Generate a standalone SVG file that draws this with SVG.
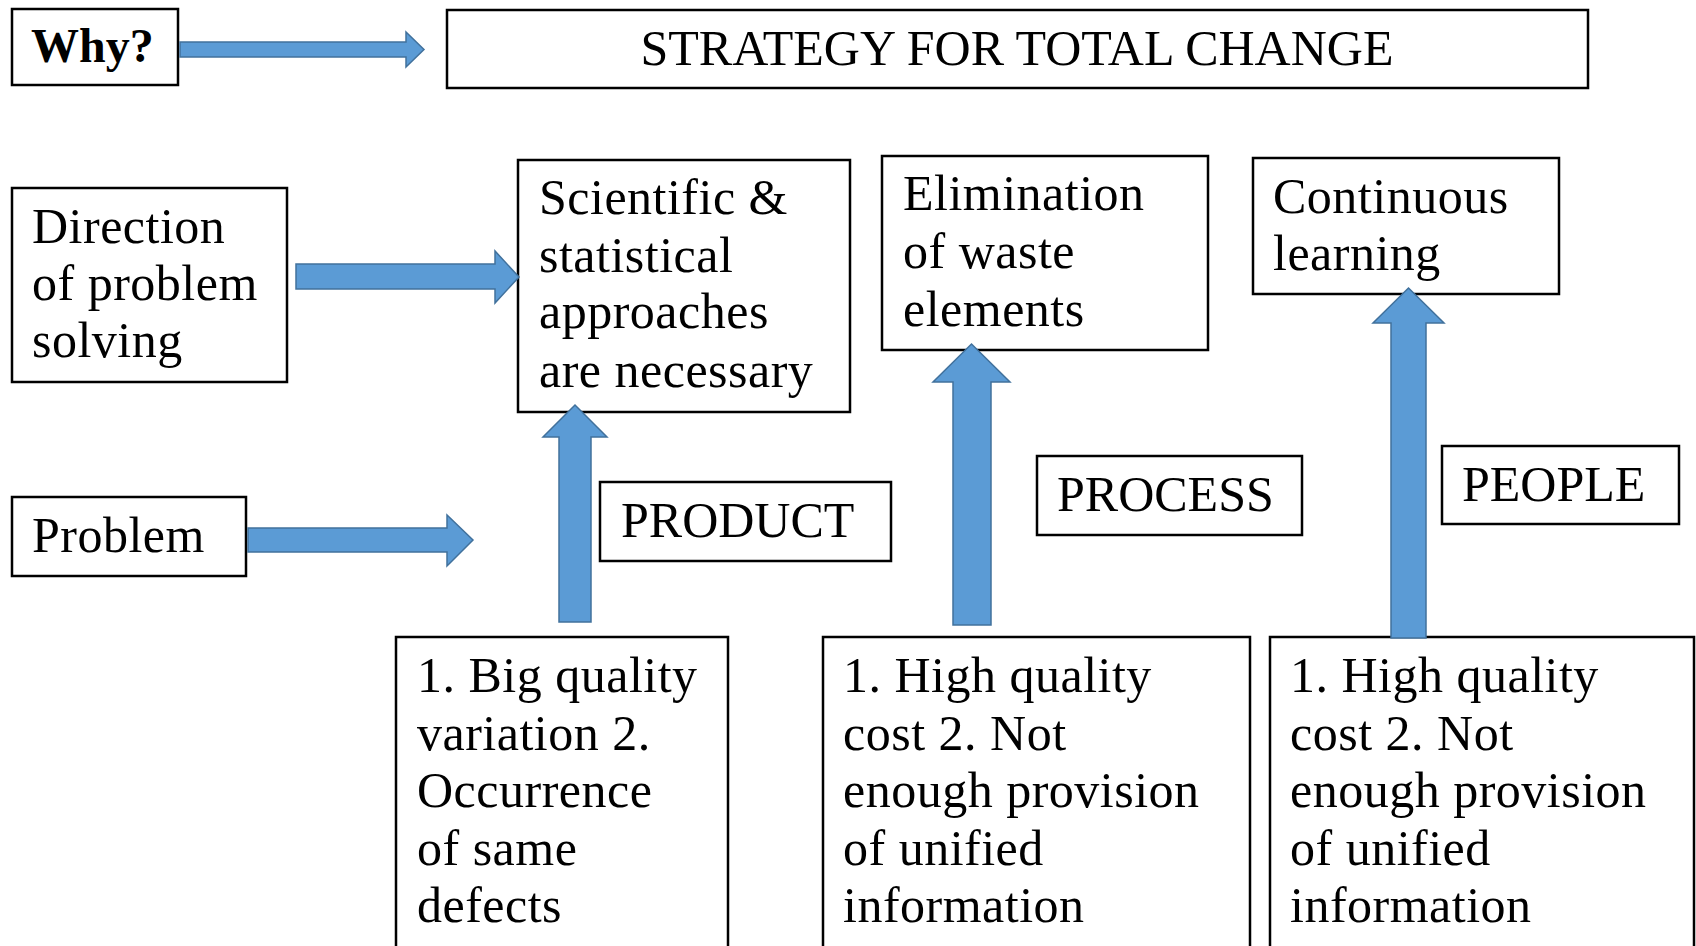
<svg xmlns="http://www.w3.org/2000/svg" width="1696" height="946" viewBox="0 0 1696 946">
  <style>
    .box { fill: #ffffff; stroke: #000000; stroke-width: 2.5; }
    .txt { font-family: "Liberation Serif", "Times New Roman", serif; font-size: 50px; letter-spacing: 0.5px; fill: #000000; }
    .caps { letter-spacing: 0px; }
    .title { font-family: "Liberation Serif", "Times New Roman", serif; font-size: 50px; fill: #000000; }
    .why { font-family: "Liberation Serif", "Times New Roman", serif; font-size: 48px; font-weight: bold; fill: #000000; }
    .arrow { fill: #5B9BD5; stroke: #41719C; stroke-width: 1.5; stroke-linejoin: miter; }
  </style>
  <rect x="0" y="0" width="1696" height="946" fill="#ffffff"/>

  <g id="why">
    <rect class="box" x="12" y="9" width="166" height="76"/>
    <text class="why" x="31" y="62">Why?</text>
  </g>

  <g id="strategy">
    <rect class="box" x="447" y="10" width="1141" height="78"/>
    <text class="title" x="1017" y="65" text-anchor="middle">STRATEGY FOR TOTAL CHANGE</text>
  </g>

  <g id="direction">
    <rect class="box" x="12" y="188" width="275" height="194"/>
    <text class="txt" x="32" y="243">Direction</text>
    <text class="txt" x="32" y="300">of problem</text>
    <text class="txt" x="32" y="357">solving</text>
  </g>

  <g id="scientific">
    <rect class="box" x="518" y="160" width="332" height="252"/>
    <text class="txt" x="539" y="214">Scientific &amp;</text>
    <text class="txt" x="539" y="272">statistical</text>
    <text class="txt" x="539" y="328">approaches</text>
    <text class="txt" x="539" y="387">are necessary</text>
  </g>

  <g id="elimination">
    <rect class="box" x="882" y="156" width="326" height="194"/>
    <text class="txt" x="903" y="210">Elimination</text>
    <text class="txt" x="903" y="268">of waste</text>
    <text class="txt" x="903" y="326">elements</text>
  </g>

  <g id="continuous">
    <rect class="box" x="1253" y="158" width="306" height="136"/>
    <text class="txt" x="1273" y="213">Continuous</text>
    <text class="txt" x="1273" y="270">learning</text>
  </g>

  <g id="problem">
    <rect class="box" x="12" y="497" width="234" height="79"/>
    <text class="txt" x="32" y="552">Problem</text>
  </g>

  <g id="product">
    <rect class="box" x="600" y="482" width="291" height="79"/>
    <text class="txt caps" x="621" y="537">PRODUCT</text>
  </g>

  <g id="process">
    <rect class="box" x="1037" y="456" width="265" height="79"/>
    <text class="txt caps" x="1057" y="511">PROCESS</text>
  </g>

  <g id="people">
    <rect class="box" x="1442" y="446" width="237" height="78"/>
    <text class="txt caps" x="1462" y="501">PEOPLE</text>
  </g>

  <g id="product-issues">
    <rect class="box" x="396" y="637" width="332" height="330"/>
    <text class="txt" x="417" y="692">1. Big quality</text>
    <text class="txt" x="417" y="750">variation 2.</text>
    <text class="txt" x="417" y="807">Occurrence</text>
    <text class="txt" x="417" y="865">of same</text>
    <text class="txt" x="417" y="922">defects</text>
  </g>

  <g id="process-issues">
    <rect class="box" x="823" y="637" width="427" height="330"/>
    <text class="txt" x="843" y="692">1. High quality</text>
    <text class="txt" x="843" y="750">cost 2. Not</text>
    <text class="txt" x="843" y="807">enough provision</text>
    <text class="txt" x="843" y="865">of unified</text>
    <text class="txt" x="843" y="922">information</text>
  </g>

  <g id="people-issues">
    <rect class="box" x="1270" y="637" width="424" height="330"/>
    <text class="txt" x="1290" y="692">1. High quality</text>
    <text class="txt" x="1290" y="750">cost 2. Not</text>
    <text class="txt" x="1290" y="807">enough provision</text>
    <text class="txt" x="1290" y="865">of unified</text>
    <text class="txt" x="1290" y="922">information</text>
  </g>

  <g id="connectors">
    <!-- horizontal block arrows -->
    <polygon class="arrow" points="180,42 406,42 406,32 424,49.5 406,67 406,57 180,57"/>
    <polygon class="arrow" points="296,264 495,264 495,251 519,277 495,303 495,289 296,289"/>
    <polygon class="arrow" points="248,528 447,528 447,515 473,540 447,566 447,552 248,552"/>
    <!-- vertical block arrows -->
    <polygon class="arrow" points="559,622 559,437 543,437 575,405 607,437 591,437 591,622"/>
    <polygon class="arrow" points="953,625 953,382 933,382 971.5,344 1010,382 991,382 991,625"/>
    <polygon class="arrow" points="1391,638 1391,323 1373,323 1408.5,288 1444,323 1426,323 1426,638"/>
  </g>
</svg>
